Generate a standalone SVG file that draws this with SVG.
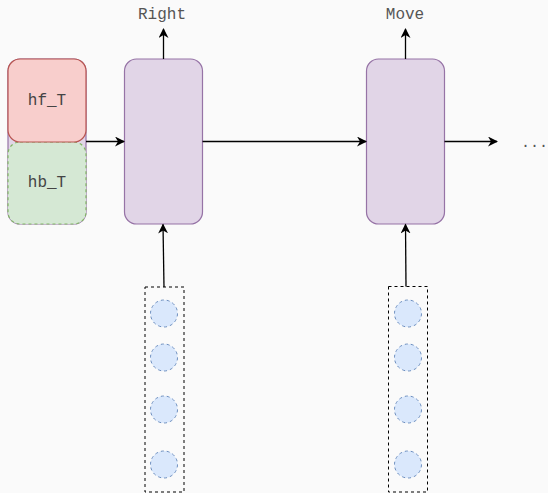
<svg xmlns="http://www.w3.org/2000/svg" width="548" height="493" viewBox="0 0 548 493">
  <defs>
    <marker id="arrow" viewBox="0 0 10 10" refX="9" refY="5" markerWidth="10" markerHeight="10" markerUnits="userSpaceOnUse" orient="auto">
      <path d="M0,0 L10,5 L0,10 L3,5 Z" fill="#000"/>
    </marker>
    <style>
      .cell { fill: #e1d5e7; stroke: #9673a6; stroke-width: 1.2; }
      .fwd { fill: #f8cecc; stroke: #b85450; stroke-width: 1.2; }
      .bwd { fill: #d5e8d4; stroke: #82b366; stroke-width: 1.2; stroke-dasharray: 3 3; }
      .vec { fill: none; stroke: #000; stroke-width: 1; stroke-dasharray: 3 3; }
      .unit { fill: #dae8fc; stroke: #6c8ebf; stroke-width: 1; stroke-dasharray: 3 3; }
      .label { font-family: "Liberation Mono", "Courier New", monospace; font-size: 16px; fill: #555; text-anchor: middle; dominant-baseline: central; }
      .edge { fill: none; stroke: #000; stroke-width: 1.3; marker-end: url(#arrow); }
    </style>
  </defs>

  <rect width="548" height="493" fill="#fafafa"/>

  <!-- final hidden state: forward and backward halves -->
  <g id="hidden-state">
    <rect class="cell" x="8" y="59" width="78" height="165" rx="12"/>
    <rect class="bwd" x="8" y="142" width="78" height="82" rx="12"/>
    <rect class="fwd" x="8" y="59" width="78" height="83" rx="12"/>
    <text class="label" x="47" y="100.5" fill="#444" style="fill:#444">hf_T</text>
    <text class="label" x="47" y="183" style="fill:#444">hb_T</text>
  </g>

  <!-- decoder steps -->
  <g id="step1">
    <rect class="cell" x="124.5" y="59" width="78" height="165" rx="12"/>
  </g>
  <g id="step2">
    <rect class="cell" x="366.5" y="59" width="78" height="165" rx="12"/>
  </g>

  <!-- outputs -->
  <g id="out1"><text class="label" x="162" y="15">Right</text></g>
  <g id="out2"><text class="label" x="405" y="15">Move</text></g>
  <g id="more"><text class="label" x="521" y="143" style="text-anchor:start;font-size:15px">...</text></g>

  <!-- input vectors -->
  <g id="input1">
    <rect class="vec" x="145" y="287" width="39" height="205"/>
    <circle class="unit" cx="164" cy="313.5" r="13.5"/>
    <circle class="unit" cx="164" cy="357.5" r="13.5"/>
    <circle class="unit" cx="164" cy="409.5" r="13.5"/>
    <circle class="unit" cx="164" cy="464.5" r="13.5"/>
  </g>
  <g id="input2">
    <rect class="vec" x="388.5" y="286.5" width="39" height="205.5"/>
    <circle class="unit" cx="408" cy="313.5" r="13.5"/>
    <circle class="unit" cx="408" cy="357.5" r="13.5"/>
    <circle class="unit" cx="408" cy="409.5" r="13.5"/>
    <circle class="unit" cx="408" cy="464.5" r="13.5"/>
  </g>

  <!-- connectors -->
  <g id="edges">
    <line class="edge" x1="86" y1="141.5" x2="124" y2="141.5"/>
    <line class="edge" x1="202.5" y1="141.5" x2="366" y2="141.5"/>
    <line class="edge" x1="444.5" y1="141.5" x2="497" y2="141.5"/>
    <line class="edge" x1="163.5" y1="59" x2="163.5" y2="29"/>
    <line class="edge" x1="405.5" y1="59" x2="405.5" y2="29"/>
    <line class="edge" x1="164" y1="287" x2="163" y2="224.5"/>
    <line class="edge" x1="406" y1="286.5" x2="405.5" y2="224.5"/>
  </g>
</svg>
